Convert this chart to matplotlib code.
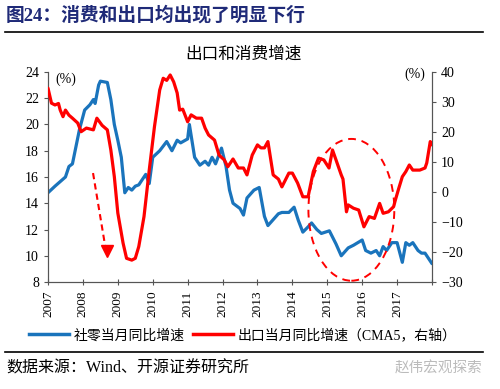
import matplotlib
matplotlib.use("Agg")
import matplotlib.pyplot as plt
from matplotlib.patches import Ellipse
from matplotlib.lines import Line2D

plt.rcParams['font.family'] = ['Liberation Serif', 'Noto Sans CJK SC']

# retail sales yoy (left axis), decimal year positions
retail_x = [2007.0, 2007.2, 2007.5, 2007.6, 2007.7, 2007.8, 2007.9, 2008.05, 2008.2, 2008.3,
            2008.35, 2008.45, 2008.5, 2008.7, 2008.8, 2008.9, 2009.0, 2009.1, 2009.2, 2009.3,
            2009.4, 2009.5, 2009.6, 2009.7, 2009.8, 2009.9, 2010.0, 2010.2, 2010.4, 2010.55,
            2010.7, 2010.8, 2011.0, 2011.05, 2011.2, 2011.35, 2011.5, 2011.6, 2011.7, 2011.8,
            2011.97, 2012.1, 2012.2, 2012.3, 2012.5, 2012.6, 2012.7, 2012.9, 2013.05, 2013.2,
            2013.3, 2013.5, 2013.6, 2013.7, 2013.9, 2014.05, 2014.17, 2014.3, 2014.45, 2014.55,
            2014.7, 2014.83, 2015.06, 2015.25, 2015.4, 2015.6, 2015.75, 2016.0, 2016.1, 2016.25,
            2016.4, 2016.5, 2016.6, 2016.7, 2016.85, 2017.0, 2017.15, 2017.25, 2017.35, 2017.45,
            2017.6, 2017.7, 2017.8, 2017.9, 2018.0]
retail_y = [14.8, 15.3, 16.0, 16.8, 17.0, 18.3, 19.6, 21.1, 21.5, 21.9,
            21.6, 23.0, 23.3, 23.2, 21.9, 20.0, 18.8, 17.5, 14.8, 15.2,
            15.0, 15.3, 15.4, 15.8, 16.2, 15.5, 17.5, 18.0, 18.7, 18.0,
            18.8, 18.6, 18.9, 20.0, 17.5, 16.9, 17.2, 16.9, 17.5, 17.0,
            18.2, 16.8, 15.0, 14.0, 13.6, 13.1, 14.4, 15.0, 15.2, 13.0,
            12.3, 12.9, 13.2, 13.3, 13.3, 13.7, 12.7, 11.8, 12.2, 12.5,
            12.0, 11.7, 11.9, 10.9, 10.0, 10.6, 10.8, 11.2, 10.4, 10.2,
            10.4, 10.0, 10.7, 10.4, 11.0, 11.0, 9.5, 11.0, 10.8, 11.0,
            10.4, 10.2, 10.2, 9.8, 9.4]

# export yoy CMA5 (right axis)
export_x = [2007.0, 2007.1, 2007.2, 2007.3, 2007.35, 2007.43, 2007.5, 2007.6, 2007.7, 2007.85,
            2007.95, 2008.1, 2008.3, 2008.4, 2008.55, 2008.7, 2008.8, 2008.9, 2009.0, 2009.15,
            2009.25, 2009.4, 2009.5, 2009.6, 2009.75, 2009.9, 2010.05, 2010.2, 2010.3, 2010.4,
            2010.5, 2010.6, 2010.7, 2010.77, 2010.86, 2011.0, 2011.1, 2011.25, 2011.4, 2011.5,
            2011.6, 2011.77, 2011.9, 2012.05, 2012.15, 2012.3, 2012.45, 2012.6, 2012.7, 2012.85,
            2013.0, 2013.1, 2013.2, 2013.3, 2013.45, 2013.6, 2013.7, 2013.9, 2014.0, 2014.15,
            2014.3, 2014.45, 2014.6, 2014.75, 2014.9, 2015.05, 2015.15, 2015.25, 2015.4, 2015.45,
            2015.55, 2015.6, 2015.75, 2015.9, 2016.05, 2016.2, 2016.35, 2016.5, 2016.6, 2016.75,
            2016.9, 2016.95, 2017.05, 2017.15, 2017.25, 2017.35, 2017.45, 2017.65, 2017.8, 2017.85,
            2017.95, 2018.0]
export_y = [34.6, 29.6, 29.0, 29.5, 27.3, 25.1, 27.3, 25.6, 24.6, 23.0,
            20.1, 21.3, 20.7, 24.6, 22.2, 20.7, 14.0, 5.1, -7.0, -17.0,
            -22.1, -22.7, -22.1, -18.2, -8.2, 7.3, 21.8, 34.0, 37.9, 37.2,
            39.0, 36.7, 33.0, 27.3, 27.6, 23.4, 25.7, 24.6, 24.6, 21.3,
            19.0, 17.3, 12.3, 10.7, 8.4, 11.0, 8.0, 8.0, 5.7, 12.3,
            15.7, 14.7, 14.7, 16.8, 5.7, 4.3, 1.7, 6.3, 6.3, 3.0,
            -1.6, -1.6, 6.8, 11.3, 10.7, 8.0, 14.0, 10.7, 5.7, 4.3,
            -6.6, -4.3, -5.4, -6.0, -11.6, -8.2, -8.8, -3.8, -7.1, -6.6,
            -4.9, -2.7, 1.3, 5.1, 6.8, 9.0, 7.3, 7.3, 8.0, 9.7,
            16.8, 15.7]

years = list(range(2007, 2019))
year_labels = [str(y) for y in range(2007, 2018)] + ['']

blue = '#1a74bc'
red = '#ff0000'
navy = '#1f2a78'

fig = plt.figure(figsize=(5, 3.89), dpi=100)
ax = fig.add_axes([0.096, 0.275, 0.768, 0.54])
ax2 = ax.twinx()

ax.plot(retail_x, retail_y, color=blue, lw=2.3, solid_capstyle='round', zorder=3)
ax2.plot(export_x, export_y, color=red, lw=2.3, solid_capstyle='round', zorder=3)

ax.set_xlim(2007, 2018)
ax.set_ylim(8, 24)
ax.set_yticks(range(8, 25, 2))
ax2.set_ylim(-30, 40)
ax2.set_yticks(range(-30, 41, 10))
ax.set_xticks(years)
ax.set_xticklabels(year_labels, rotation=90)

for a in (ax, ax2):
    a.spines['top'].set_visible(False)
    for s in ('left', 'right', 'bottom'):
        a.spines[s].set_color('#555555')
        a.spines[s].set_linewidth(0.8)
    a.tick_params(labelsize=10, width=0.8, length=3, color='#555555')
ax.tick_params(axis='x', labelsize=9.5, direction='inout', length=5)
ax.tick_params(axis='y', direction='out')

ax.text(0.018, 0.965, '(%)', transform=ax.transAxes, fontsize=10, va='center')
ax2.text(0.982, 0.99, '(%)', transform=ax2.transAxes, fontsize=10, va='center', ha='right')

# dashed arrow on the 2008 drop
ax.plot([2008.29, 2008.64], [16.3, 10.7], color=red, lw=1.5, ls=(0, (3, 2)), zorder=4)
ax.plot([2008.68], [10.35], marker='v', color=red, markersize=9, zorder=4)

# dashed ellipse around the 2015-2016 period
ell = Ellipse((2015.69, 13.5), 2.46, 10.8, fill=False, edgecolor=red, lw=1.4,
              ls=(0, (4, 3)), clip_on=False, zorder=4)
ax.add_patch(ell)

# titles and rules
fig.text(0.012, 0.962, '图24：消费和出口均出现了明显下行', fontsize=13.5, fontweight='bold',
         color=navy, va='center')
fig.add_artist(Line2D([0.01, 0.965], [0.918, 0.918], color='black', lw=1.2))
fig.text(0.487, 0.86, '出口和消费增速', fontsize=12, ha='center', va='center')

handles = [Line2D([], [], color=blue, lw=2.5), Line2D([], [], color=red, lw=2.5)]
fig.legend(handles, ['社零当月同比增速', '出口当月同比增速（CMA5，右轴）'], loc='center',
           bbox_to_anchor=(0.485, 0.138), ncol=2, frameon=False, fontsize=10,
           handlelength=2.9, columnspacing=0.6, handletextpad=0.3)

fig.add_artist(Line2D([0.01, 0.965], [0.095, 0.095], color='black', lw=1.2))
fig.text(0.012, 0.052, '数据来源：Wind、开源证券研究所', fontsize=11.5, va='center')
fig.text(0.965, 0.052, '赵伟宏观探索', fontsize=10.5, va='center', ha='right', color='#bbbbbb')

fig.savefig('out.png', dpi=100)
